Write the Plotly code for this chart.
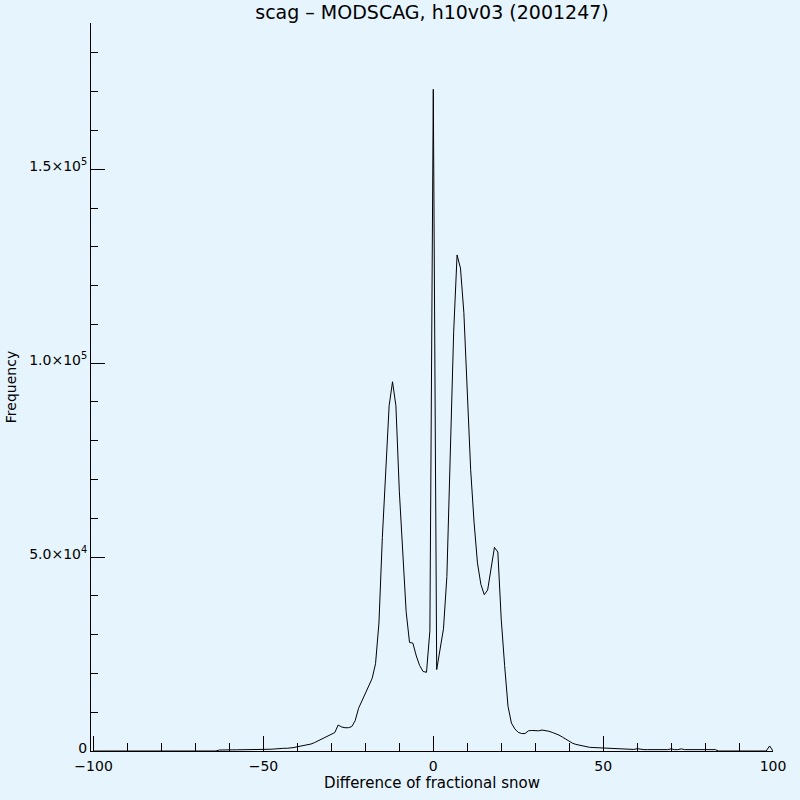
import plotly.graph_objects as go

# difference of fractional snow (bins, -100 .. 100)
diff_bins = list(range(-100, 101))

# histogram counts, one per bin
freq = [
    0, 0, 0, 0, 0, 0, 0, 0, 0, 0,                                   # -100 .. -91
    0, 0, 0, 0, 0, 0, 0, 0, 0, 0,                                   # -90 .. -81
    0, 0, 0, 0, 0, 0, 0, 0, 0, 0,                                   # -80 .. -71
    0, 0, 0, 0, 0, 0, 0, 250, 300, 300,                             # -70 .. -61
    300, 300, 300, 300, 300, 300, 300, 300, 350, 400,               # -60 .. -51
    440, 440, 450, 500, 600, 650, 700, 700, 750, 900,               # -50 .. -41
    1100, 1250, 1400, 1550, 1800, 2150, 2550, 3000, 3400, 3850,     # -40 .. -31
    4250, 4750, 6700, 6200, 6000, 6000, 6300, 7800, 11000, 13000,   # -30 .. -21
    15000, 16800, 18700, 22500, 33000, 55000, 72500, 89000, 95200, 89000,  # -20 .. -11
    67000, 50000, 36000, 28000, 27800, 24500, 22000, 20500, 20300, 31000,  # -10 .. -1
    170600,                                                          # 0
    21000, 26000, 31500, 45000, 77000, 108000, 127900, 124500, 113000, 94000,  # 1 .. 10
    72500, 59000, 48500, 43000, 40300, 41500, 47500, 52500, 51300, 34000,      # 11 .. 20
    22000, 11500, 7200, 5700, 4800, 4500, 4500, 5200, 5300, 5300,   # 21 .. 30
    5200, 5400, 5300, 5100, 4800, 4500, 4100, 3600, 3000, 2400,     # 31 .. 40
    2000, 1700, 1500, 1200, 1000, 950, 900, 850, 750, 700,          # 41 .. 50
    650, 600, 600, 550, 550, 500, 500, 450, 400, 600,               # 51 .. 60
    400, 350, 350, 350, 350, 350, 350, 350, 350, 550,               # 61 .. 70
    350, 350, 550, 350, 350, 350, 350, 350, 350, 350,               # 71 .. 80
    350, 350, 350, 0, 0, 0, 0, 0, 0, 0,                             # 81 .. 90
    0, 0, 0, 0, 0, 0, 0, 0, 1300, 0,                                # 91 .. 100
]

x_major = [-100, -50, 0, 50, 100]
y_major = [0, 50000, 100000, 150000]
y_labels = ["0", "5.0×10<sup>4</sup>", "1.0×10<sup>5</sup>", "1.5×10<sup>5</sup>"]

BG = "#E6F4FE"
FONT = "DejaVu Sans"

fig = go.Figure()
fig.add_trace(go.Scatter(x=diff_bins, y=freq, mode="lines",
                         line=dict(color="black", width=1), hoverinfo="skip"))

fig.update_layout(
    width=800, height=800,
    paper_bgcolor=BG, plot_bgcolor=BG,
    margin=dict(l=91, r=27, t=23, b=49),
    showlegend=False,
    font=dict(family=FONT, color="black", size=14),
    title=dict(text="scag – MODSCAG, h10v03 (2001247)",
               x=0.5, xref="paper", xanchor="center",
               y=0.985, yref="container", yanchor="middle",
               font=dict(family=FONT, size=19, color="black")),
)
fig.update_xaxes(
    range=[-100.76, 100], showgrid=False, zeroline=False, automargin=False,
    showline=True, linecolor="black", linewidth=1,
    ticks="inside", ticklen=15, tickcolor="black", tickwidth=1,
    tickvals=x_major, tickfont=dict(size=14), ticklabelstandoff=2,
    minor=dict(ticks="inside", ticklen=8, dtick=10, tick0=0, tickcolor="black"),
    title=dict(text="Difference of fractional snow", font=dict(size=15), standoff=0),
)
fig.update_yaxes(
    range=[0, 187700], showgrid=False, zeroline=False, automargin=False,
    showline=True, linecolor="black", linewidth=1,
    ticks="inside", ticklen=14, tickcolor="black", tickwidth=1,
    tickvals=y_major, ticktext=y_labels, tickfont=dict(size=14),
    ticklabelshift=-3,
    minor=dict(ticks="inside", ticklen=7, dtick=10000, tick0=0, tickcolor="black"),
    title=dict(text="Frequency", font=dict(size=14), standoff=9),
)

# drop the default page margin so the figure sits at the window's corner
fig.write_html("out.html", config={"displayModeBar": False},
               post_script="document.body.style.margin='0';")
